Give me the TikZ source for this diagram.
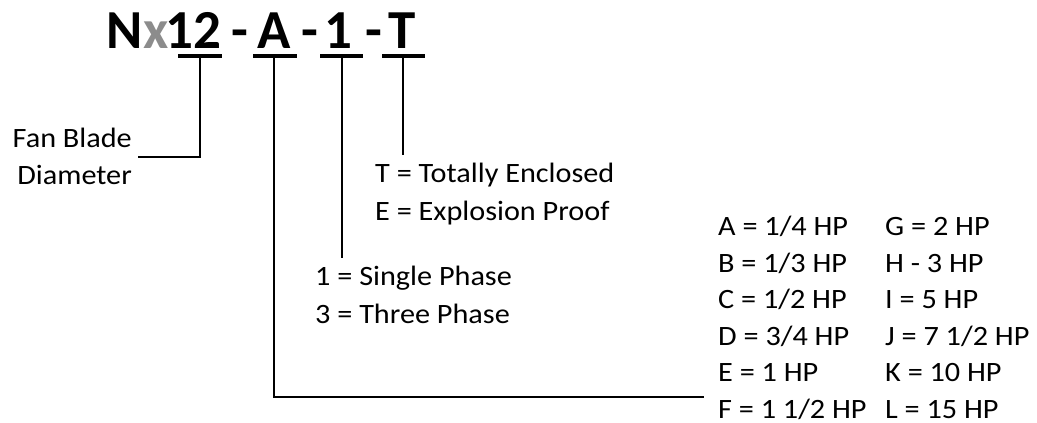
\documentclass[tikz,border=0pt]{standalone}
\usepackage{fontspec}
\usepackage{xcolor}
\usepackage{tikz}
\setmainfont{Carlito}
\newfontfamily\lblfont[FakeStretch=1.08]{Carlito}
\definecolor{codegrey}{RGB}{140,140,140}
\tikzset{
  code/.style={inner sep=0pt, anchor=base, font=\bfseries\fontsize{55}{60}\selectfont},
  lbl/.style={inner sep=0pt, anchor=base west, font=\lblfont\fontsize{28}{32}\selectfont},
  bar/.style={line width=4.5pt},
  lead/.style={line width=2pt},
}
\begin{document}
\begin{tikzpicture}[x=1pt, y=-1pt]
			\useasboundingbox (0,0) rectangle (1037,423);
			% model code
			\node[code, anchor=base east] at (143,48) (cN) {N};
			\node[code, anchor=base west, text=codegrey] at (143,48) (cx) {x};
			\node[code] at (193.5,48) (c12) {12};
			\node[code] at (240,48) (d1) {-};
			\node[code] at (274.5,48) (cA) {A};
			\node[code] at (310,48) (d2) {-};
			\node[code] at (338,48) (c1) {1};
			\node[code] at (373.5,48) (d3) {-};
			\node[code] at (402,48) (cT) {T};
			% underlines
			\coordinate (u12a) at (178,56);  \coordinate (u12b) at (222,56);
			\coordinate (uAa) at (253,56);   \coordinate (uAb) at (297,56);
			\coordinate (u1a) at (320,56);   \coordinate (u1b) at (363,56);
			\coordinate (uTa) at (382,56);   \coordinate (uTb) at (425,56);
			\draw[bar] (u12a) -- (u12b);
			\draw[bar] (uAa) -- (uAb);
			\draw[bar] (u1a) -- (u1b);
			\draw[bar] (uTa) -- (uTb);
			% labels
			\node[lbl, anchor=base east] at (132,147) (fan1) {Fan Blade};
			\node[lbl, anchor=base east] at (132,184) (fan2) {Diameter};
			\node[lbl] at (375,182) (encl1) {T = Totally Enclosed};
			\node[lbl] at (375,220) (encl2) {E = Explosion Proof};
			\node[lbl] at (315,285) (ph1) {1 = Single Phase};
			\node[lbl] at (315,323) (ph3) {3 = Three Phase};
			\node[lbl] at (718,235) (hpA) {A = 1/4 HP};
			\node[lbl] at (718,272) (hpB) {B = 1/3 HP};
			\node[lbl] at (718,308) (hpC) {C = 1/2 HP};
			\node[lbl] at (718,345) (hpD) {D = 3/4 HP};
			\node[lbl] at (718,381) (hpE) {E = 1 HP};
			\node[lbl] at (718,418) (hpF) {F = 1 1/2 HP};
			\node[lbl] at (885,235) (hpG) {G = 2 HP};
			\node[lbl] at (885,272) (hpH) {H - 3 HP};
			\node[lbl] at (885,308) (hpI) {I = 5 HP};
			\node[lbl] at (885,345) (hpJ) {J = 7 1/2 HP};
			\node[lbl] at (885,381) (hpK) {K = 10 HP};
			\node[lbl] at (885,418) (hpL) {L = 15 HP};
			% leaders
			\coordinate (fanEnd) at (138,157);
			\coordinate (hpEnd) at (704,397);
			\draw[lead] (200,56) |- (fanEnd);
			\draw[lead] (274,56) |- (hpEnd);
			\draw[lead] (342,56) -- (342,258);
			\draw[lead] (403,56) -- (403,155);
\end{tikzpicture}
\end{document}
